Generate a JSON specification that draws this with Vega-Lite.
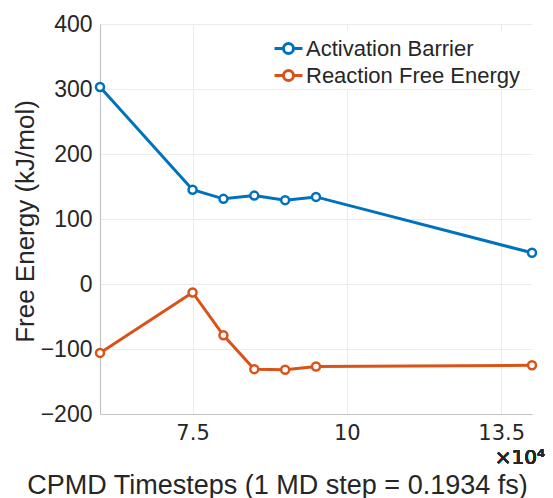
{
  "$schema": "https://vega.github.io/schema/vega-lite/v6.json",
  "width": 432,
  "height": 390,
  "autosize": "none",
  "padding": {"left": 100, "top": 24, "right": 21, "bottom": 84},
  "background": "white",
  "config": {
    "view": {"stroke": null},
    "axis": {
      "gridColor": "#ebebeb",
      "gridWidth": 1,
      "domainColor": "#c4c4c4",
      "domainWidth": 1.2,
      "ticks": false,
      "labelColor": "#262626",
      "titleColor": "#262626",
      "titleFontWeight": "normal"
    }
  },
  "data": {
    "values": [
      {"step": 6, "energy": 303, "series": "Activation Barrier"},
      {"step": 7.5, "energy": 145, "series": "Activation Barrier"},
      {"step": 8, "energy": 131, "series": "Activation Barrier"},
      {"step": 8.5, "energy": 136, "series": "Activation Barrier"},
      {"step": 9, "energy": 129, "series": "Activation Barrier"},
      {"step": 9.5, "energy": 134, "series": "Activation Barrier"},
      {"step": 13, "energy": 48, "series": "Activation Barrier"},
      {"step": 6, "energy": -106, "series": "Reaction Free Energy"},
      {"step": 7.5, "energy": -13, "series": "Reaction Free Energy"},
      {"step": 8, "energy": -79, "series": "Reaction Free Energy"},
      {"step": 8.5, "energy": -131, "series": "Reaction Free Energy"},
      {"step": 9, "energy": -132, "series": "Reaction Free Energy"},
      {"step": 9.5, "energy": -127, "series": "Reaction Free Energy"},
      {"step": 13, "energy": -125, "series": "Reaction Free Energy"}
    ]
  },
  "encoding": {
    "x": {
      "field": "step",
      "type": "quantitative",
      "scale": {"domain": [6, 13], "nice": false, "zero": false},
      "axis": {
        "values": [7.5, 10, 12.5],
        "format": "~g",
        "labelExpr": "datum.value == 12.5 ? '13.5' : datum.label",
        "labelFont": "DejaVu Sans",
        "labelFontSize": 21,
        "labelPadding": 8,
        "title": "CPMD Timesteps (1 MD step = 0.1934 fs)",
        "titleFont": "Liberation Sans",
        "titleFontSize": 27,
        "titleAnchor": "start",
        "titleAlign": "center",
        "titleBaseline": "alphabetic",
        "titleX": 177,
        "titleY": 79
      }
    },
    "y": {
      "field": "energy",
      "type": "quantitative",
      "scale": {"domain": [-200, 400], "nice": false},
      "axis": {
        "values": [-200, -100, 0, 100, 200, 300, 400],
        "labelFont": "Liberation Sans",
        "labelFontSize": 23,
        "labelPadding": 8,
        "title": "Free Energy (kJ/mol)",
        "titleFont": "Liberation Sans",
        "titleFontSize": 26,
        "titleAngle": -90,
        "titleAlign": "center",
        "titleBaseline": "alphabetic",
        "titleX": -67,
        "titleY": 197
      }
    }
  },
  "layer": [
    {
      "mark": {"type": "line", "strokeWidth": 3},
      "encoding": {
        "color": {
          "field": "series",
          "type": "nominal",
          "sort": ["Activation Barrier", "Reaction Free Energy"],
          "scale": {"range": ["#0072BD", "#D95319"]},
          "legend": {
            "title": null,
            "orient": "none",
            "legendX": 171,
            "legendY": 7,
            "fillColor": "white",
            "padding": 2,
            "labelFont": "Liberation Sans",
            "labelFontSize": 22,
            "labelColor": "#262626",
            "labelLimit": 0,
            "labelOffset": 2,
            "rowPadding": 0,
            "symbolType": "M-1,0L-0.36,0M0.36,0L1,0M-0.36,0A0.36,0.36 0 1,0 0.36,0A0.36,0.36 0 1,0 -0.36,0",
            "symbolSize": 784,
            "symbolStrokeWidth": 3,
            "symbolFillColor": "white"
          }
        }
      }
    },
    {
      "mark": {"type": "point", "shape": "circle", "filled": false, "fill": "white", "size": 64, "strokeWidth": 2.5, "opacity": 1},
      "encoding": {
        "color": {"field": "series", "type": "nominal", "sort": ["Activation Barrier", "Reaction Free Energy"]}
      }
    },
    {
      "mark": {"type": "text", "text": "×10⁴", "font": "DejaVu Sans", "fontSize": 20, "color": "#262626", "align": "right", "baseline": "alphabetic", "dx": 13, "dy": 50},
      "encoding": {
        "x": {"datum": 13},
        "y": {"datum": -200}
      }
    }
  ]
}
